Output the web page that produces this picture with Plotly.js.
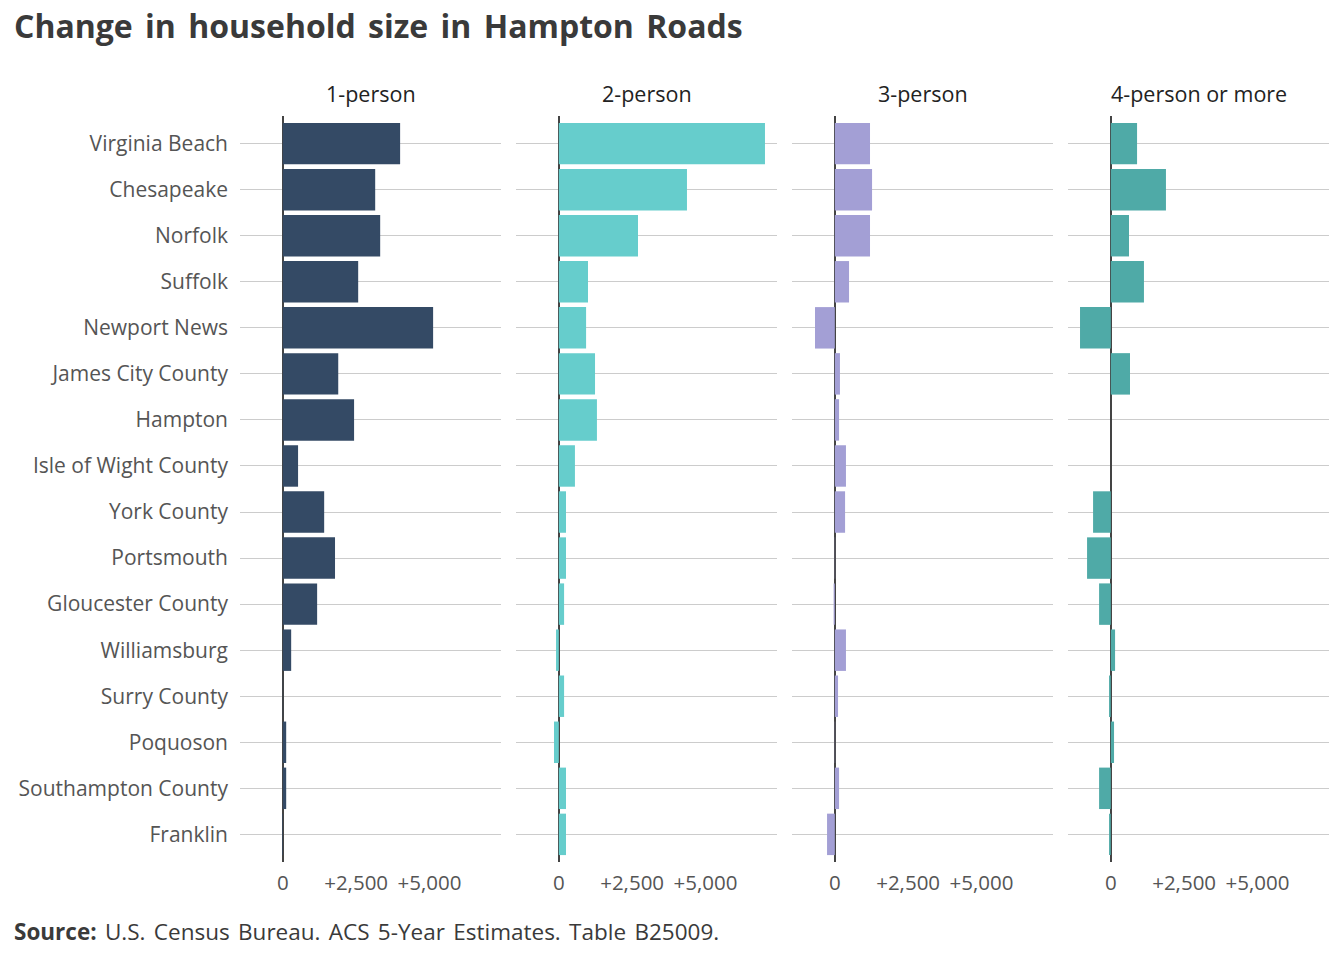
<!DOCTYPE html>
<html>
<head>
<meta charset="utf-8">
<script src="https://cdn.plot.ly/plotly-3.0.1.min.js"></script>
<style>
html,body{margin:0;padding:0;background:#fff;}
#chart{width:1344px;height:960px;}
#chart .gtitle{word-spacing:4px;}
#chart .annotation:last-of-type .annotation-text{word-spacing:2.5px;}
</style>
</head>
<body>
<div id="chart"></div>
<script>
const localities = ["Virginia Beach","Chesapeake","Norfolk","Suffolk","Newport News","James City County","Hampton","Isle of Wight County","York County","Portsmouth","Gloucester County","Williamsburg","Surry County","Poquoson","Southampton County","Franklin"];
const panelTitles = ["1-person","2-person","3-person","4-person or more"];
const onePerson   = [4000, 3150, 3320, 2570, 5125, 1890, 2430, 520, 1410, 1780, 1170, 285, 10, 115, 115, -20];
const twoPerson   = [7030, 4370, 2700, 995, 930, 1235, 1300, 550, 245, 245, 180, -95, 180, -165, 245, 245];
const threePerson = [1200, 1270, 1200, 485, -675, 175, 145, 380, 350, 10, -40, 380, 110, 10, 145, -265];
const fourPlus    = [895, 1880, 620, 1130, -1050, 655, 0, 0, -605, -810, -400, 145, -60, 110, -400, -60];
const tickVals = [0, 2500, 5000];
const tickText = ["0", "+2,500", "+5,000"];

const series = [onePerson, twoPerson, threePerson, fourPlus];
const colors = ["#344a65", "#66cdcc", "#a39fd5", "#4faaa7"];
const W = 1344, H = 960;
const pxDomains = [[240,501],[516,777],[792,1053],[1068,1329]];
const yTop = 116, yBot = 862;

const traces = series.map((vals, i) => ({
  type: "bar",
  orientation: "h",
  x: vals,
  y: localities,
  width: 0.9,
  marker: {color: colors[i], line: {width: 0}},
  xaxis: i === 0 ? "x" : "x" + (i + 1),
  yaxis: i === 0 ? "y" : "y" + (i + 1),
  hoverinfo: "x+y",
  showlegend: false
}));

const layout = {
  width: W, height: H,
  margin: {l: 0, r: 0, t: 0, b: 0},
  paper_bgcolor: "#fff",
  plot_bgcolor: "rgba(0,0,0,0)",
  font: {family: "Open Sans, sans-serif", color: "#555"},
  title: {
    text: "<b>Change in household size in Hampton Roads</b>",
    x: 14 / W, xanchor: "left",
    y: 1 - 27 / H, yanchor: "middle",
    font: {size: 32, color: "#3a3a3a", family: "Open Sans, sans-serif"}
  },
  bargap: 0.1,
  annotations: [],
  showlegend: false
};

pxDomains.forEach((d, i) => {
  const sfx = i === 0 ? "" : String(i + 1);
  layout["xaxis" + sfx] = {
    domain: [d[0] / W, d[1] / W],
    anchor: "y" + sfx,
    range: [-1460, 7440],
    tickvals: tickVals,
    ticktext: tickText,
    ticks: "",
    ticklabelstandoff: 6,
    tickfont: {size: 20.5, color: "#555"},
    showgrid: false,
    zeroline: true,
    zerolinecolor: "#444",
    zerolinewidth: 2,
    showline: false,
    fixedrange: true
  };
  layout["yaxis" + sfx] = {
    domain: [1 - yBot / H, 1 - yTop / H],
    anchor: "x" + sfx,
    type: "category",
    categoryorder: "array",
    categoryarray: localities,
    range: [15.6, -0.6],
    showgrid: true,
    gridcolor: "#cccccc",
    gridwidth: 1,
    ticks: "",
    showticklabels: i === 0,
    ticklabelstandoff: 11,
    tickfont: {size: 21, color: "#555"},
    zeroline: false,
    showline: false,
    fixedrange: true
  };
  layout.annotations.push({
    text: panelTitles[i],
    xref: "paper", yref: "paper",
    x: (d[0] + d[1]) / 2 / W, y: 1 - 94 / H,
    xanchor: "center", yanchor: "middle",
    showarrow: false,
    font: {size: 21.5, color: "#222"}
  });
});

layout.annotations.push({
  text: "<b>Source:</b> U.S. Census Bureau. ACS 5-Year Estimates. Table B25009.",
  xref: "paper", yref: "paper",
  x: 22 / W, y: 1 - 931 / H,
  xanchor: "left", yanchor: "middle",
  showarrow: false,
  font: {size: 22.5, color: "#3a3a3a"}
});

Plotly.newPlot("chart", traces, layout, {displayModeBar: false, staticPlot: true});
</script>
</body>
</html>
